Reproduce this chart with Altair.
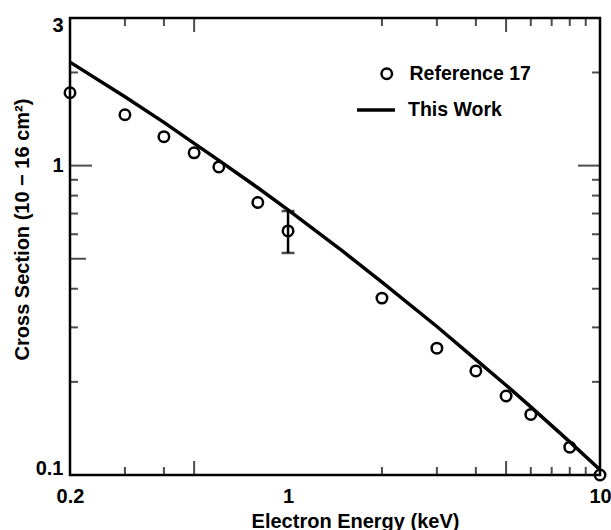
import altair as alt
import pandas as pd

W, H = 530, 457
FONT = "Liberation Sans"
TICK_COLOR = "black"

# Reference 17 measurements
ref_energy = [0.2, 0.3, 0.4, 0.5, 0.6, 0.8, 1.0, 2.0, 3.0, 4.0, 5.0, 6.0, 8.0, 10.0]
ref_sigma = [1.72, 1.46, 1.24, 1.10, 0.99, 0.76, 0.615, 0.373, 0.257, 0.217, 0.18, 0.157, 0.123, 0.10]

# error bar on the 1 keV point
err_energy = [1.0]
err_low = [0.522]
err_high = [0.713]

# This Work (calculation)
calc_energy = [0.2, 0.3, 0.4, 0.5, 0.6, 0.8, 1.0, 1.5, 2.0, 3.0, 4.0, 5.0, 6.0, 8.0, 10.0]
calc_sigma = [2.16, 1.67, 1.38, 1.18, 1.04, 0.848, 0.719, 0.528, 0.42, 0.302, 0.236, 0.195, 0.166, 0.128, 0.104]

# axis tick values
x_labels = [0.2, 1, 10]
y_labels = [0.1, 1, 3]
x_minor_ticks = [0.3, 0.4, 2, 3, 4, 6, 7, 8, 9]
x_major_ticks = [0.5, 5]
y_minor_ticks = [0.2, 0.3, 0.4, 0.6, 0.7, 0.8, 0.9, 2]
y_mid_ticks = [0.5]
y_major_ticks = [1]

ref_df = pd.DataFrame({"energy": ref_energy, "sigma": ref_sigma, "source": ["Reference 17"] * len(ref_energy)})
calc_df = pd.DataFrame({"energy": calc_energy, "sigma": calc_sigma, "model": ["This Work"] * len(calc_energy)})
err_df = pd.DataFrame({"energy": err_energy, "low": err_low, "high": err_high})

xscale = alt.Scale(type="log", domain=[0.2, 10], nice=False)
yscale = alt.Scale(type="log", domain=[0.1, 3], nice=False)

xaxis = alt.Axis(
    values=x_labels, format="~g", title="Electron Energy (keV)", grid=False, ticks=False, domain=False,
    labelPadding=11, labelFontSize=20, labelFont=FONT, labelFontWeight="bold", labelColor="black",
    labelFlush=False,
    titleFontSize=20, titleFont=FONT, titleFontWeight="bold", titleColor="black",
    titleX=285, titleY=52, titleBaseline="alphabetic", titleAlign="center",
)
yaxis = alt.Axis(
    values=y_labels, format="~g", title="Cross Section (10 − 16 cm²)", grid=False, ticks=False, domain=False,
    labelPadding=7, labelFontSize=20, labelFont=FONT, labelFontWeight="bold", labelColor="black",
    labelFlush=True, labelFlushOffset=3,
    titleFontSize=20, titleFont=FONT, titleFontWeight="bold", titleColor="black",
    titleX=-48, titleY=211, titleAngle=270, titleBaseline="middle", titleAlign="center",
)

points = alt.Chart(ref_df).mark_point(
    filled=False, color="black", strokeWidth=2.5, size=110, opacity=1
).encode(
    x=alt.X("energy:Q", scale=xscale, axis=xaxis),
    y=alt.Y("sigma:Q", scale=yscale, axis=yaxis),
    shape=alt.Shape(
        "source:N",
        scale=alt.Scale(domain=["Reference 17"], range=["circle"]),
        legend=alt.Legend(
            title=None, orient="none", legendX=307, legendY=46, padding=0,
            symbolType="circle", symbolSize=110, symbolStrokeWidth=2.5,
            symbolStrokeColor="black", symbolFillColor="transparent",
            labelFont=FONT, labelFontSize=19.5, labelFontWeight="bold",
            labelColor="black", labelOffset=13,
        ),
    ),
)

line = alt.Chart(calc_df).mark_line(strokeWidth=3.5).encode(
    x=alt.X("energy:Q"),
    y=alt.Y("sigma:Q"),
    color=alt.Color(
        "model:N",
        scale=alt.Scale(domain=["This Work"], range=["black"]),
        legend=alt.Legend(
            title=None, orient="none", legendX=285, legendY=71, padding=0,
            symbolType="stroke", symbolSize=1444, symbolStrokeWidth=3.5,
            symbolStrokeColor="black",
            labelFont=FONT, labelFontSize=19.5, labelFontWeight="bold",
            labelColor="black", labelOffset=11,
        ),
    ),
)

err_rule = alt.Chart(err_df).mark_rule(color="black", strokeWidth=2.5).encode(
    x=alt.X("energy:Q"), y=alt.Y("low:Q"), y2="high:Q"
)
err_caps = alt.Chart(err_df).transform_fold(["low", "high"], as_=["end", "sigma"]).mark_tick(
    orient="horizontal", size=13, thickness=2.5, color="black"
).encode(x=alt.X("energy:Q"), y=alt.Y("sigma:Q"))


def x_ticks(vals, length):
    d = pd.DataFrame({"energy": vals})
    base = alt.Chart(d).mark_tick(orient="vertical", size=length, thickness=2, color=TICK_COLOR)
    bottom = base.encode(x=alt.X("energy:Q"), y=alt.value(H - length / 2))
    top = base.encode(x=alt.X("energy:Q"), y=alt.value(length / 2))
    return [bottom, top]


def y_ticks(vals, left_len, right_len):
    d = pd.DataFrame({"sigma": vals})
    left = alt.Chart(d).mark_tick(orient="horizontal", size=left_len, thickness=2, color=TICK_COLOR).encode(
        y=alt.Y("sigma:Q"), x=alt.value(left_len / 2))
    right = alt.Chart(d).mark_tick(orient="horizontal", size=right_len, thickness=2, color=TICK_COLOR).encode(
        y=alt.Y("sigma:Q"), x=alt.value(W - right_len / 2))
    return [left, right]


tick_layers = (
    x_ticks(x_minor_ticks, 8) + x_ticks(x_major_ticks, 14)
    + y_ticks(y_minor_ticks, 8, 8) + y_ticks(y_mid_ticks, 16, 8) + y_ticks(y_major_ticks, 22, 22)
)

chart = alt.layer(points, line, err_rule, err_caps, *tick_layers).properties(
    width=W, height=H,
    autosize=alt.AutoSizeParams(type="none"),
    padding={"left": 70, "top": 18, "right": 11, "bottom": 55},
    background="white",
).configure_view(stroke="black", strokeWidth=2.5)

chart.save("out.html", embed_options={"renderer": "svg", "actions": False})
